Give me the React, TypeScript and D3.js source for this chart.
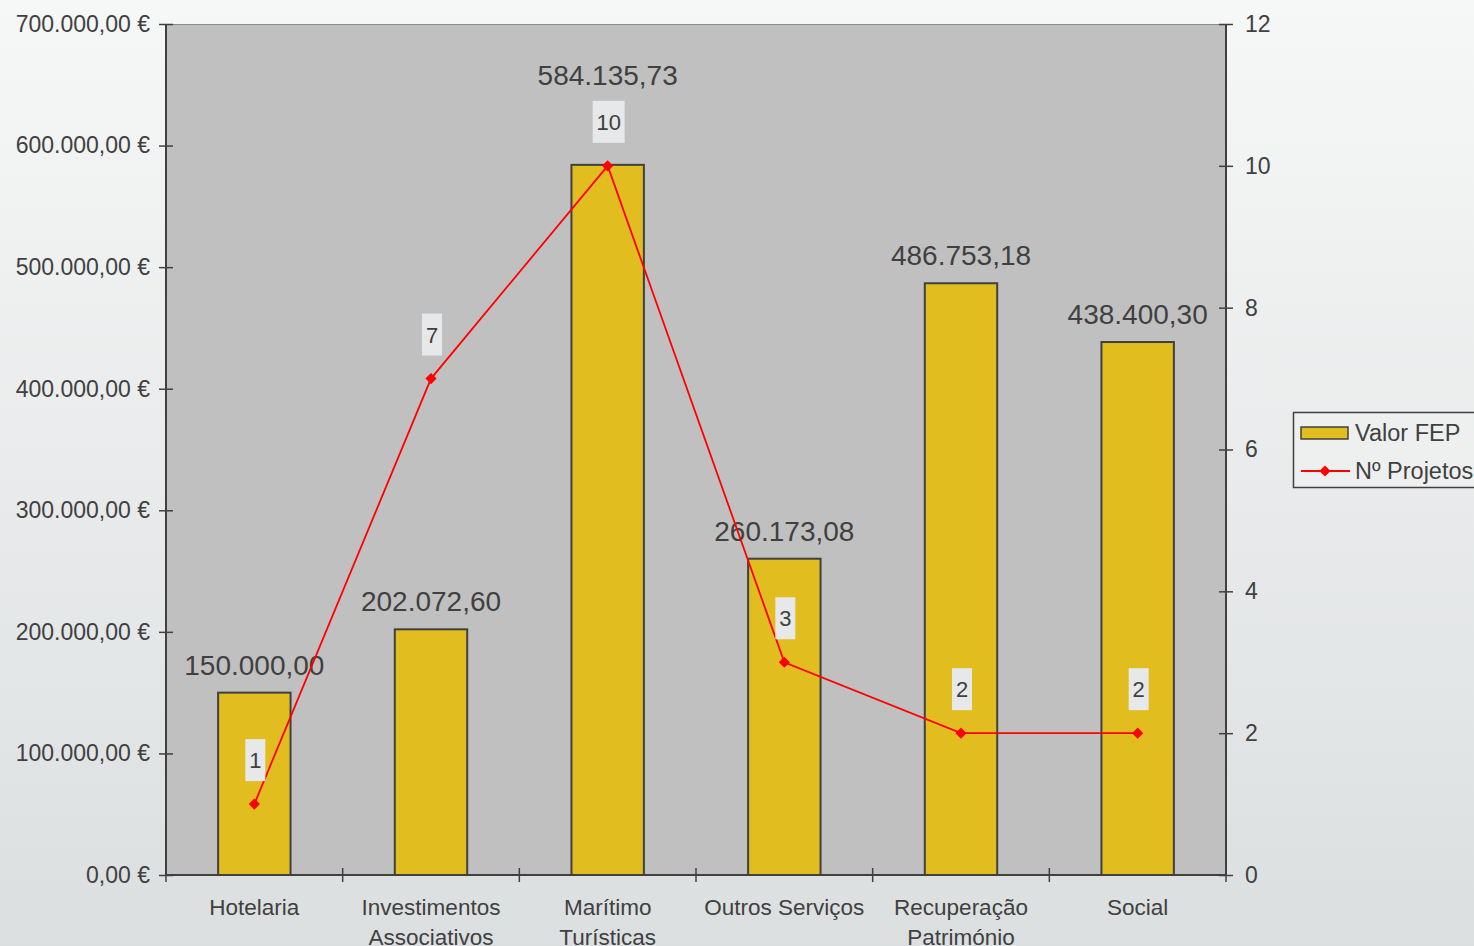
import React, { useRef, useEffect } from 'react';
import * as d3 from 'd3';

const categories = [
  ['Hotelaria'],
  ['Investimentos', 'Associativos'],
  ['Marítimo', 'Turísticas'],
  ['Outros Serviços'],
  ['Recuperação', 'Património'],
  ['Social'],
];
const valorFEP = [150000.0, 202072.6, 584135.73, 260173.08, 486753.18, 438400.3];
const nProjetos = [1, 7, 10, 3, 2, 2];
const leftTicks = [0, 100000, 200000, 300000, 400000, 500000, 600000, 700000];
const rightTicks = [0, 2, 4, 6, 8, 10, 12];

const W = 1474;
const H = 946;
const FONT = '"Liberation Sans", Arial, sans-serif';
const TEXT = '#404040';

const fmt = (v: number) => {
  const [int, dec] = v.toFixed(2).split('.');
  return int.replace(/\B(?=(\d{3})+(?!\d))/g, '.') + ',' + dec;
};

const App: React.FC = () => {
  const svgRef = useRef<SVGSVGElement>(null);

  useEffect(() => {
    document.body.style.margin = '0';
    const svg = d3.select(svgRef.current);
    svg.selectAll('*').remove();

    const margin = { top: 24, right: 248, bottom: 71, left: 166 };
    const width = W - margin.left - margin.right;
    const height = H - margin.top - margin.bottom;

    // background gradient
    const defs = svg.append('defs');
    const bg = defs.append('linearGradient')
      .attr('id', 'bg').attr('x1', 0).attr('y1', 0).attr('x2', 0).attr('y2', 1);
    bg.append('stop').attr('offset', '0%').attr('stop-color', '#f6f7f7');
    bg.append('stop').attr('offset', '100%').attr('stop-color', '#dcdfe0');
    svg.append('rect').attr('width', W).attr('height', H).attr('fill', 'url(#bg)');

    const g = svg.append('g').attr('transform', `translate(${margin.left},${margin.top})`);

    const x = d3.scaleBand<number>()
      .domain(d3.range(categories.length))
      .range([0, width])
      .paddingInner(0.59)
      .paddingOuter(0.295);
    const xc = (i: number) => (x(i) as number) + x.bandwidth() / 2;
    const y = d3.scaleLinear().domain([0, 700000]).range([height, 0]);
    const y2 = d3.scaleLinear().domain([0, 12]).range([height, 0]);

    // plot area
    g.append('rect')
      .attr('width', width).attr('height', height)
      .attr('fill', '#c0c0c0');
    g.append('line')
      .attr('x1', 0).attr('x2', width).attr('y1', 0.5).attr('y2', 0.5)
      .attr('stroke', '#8a8a8a').attr('stroke-width', 1);

    // bars
    g.selectAll('.bar')
      .data(valorFEP)
      .enter().append('rect')
      .attr('x', (_, i) => x(i) as number)
      .attr('y', d => y(d))
      .attr('width', x.bandwidth())
      .attr('height', d => height - y(d))
      .attr('fill', '#e2bd20')
      .attr('stroke', '#404040')
      .attr('stroke-width', 2);

    // point label positions (centre of box)
    const ptOffset = 44;
    const boxH = 42;
    const ptY = (d: number) => y2(d) - ptOffset;

    // bar labels, pushed above the point label when they would collide
    const barLabelY = (d: number, i: number) => {
      const base = y(d) - 18;
      const boxTop = ptY(nProjetos[i]) - boxH / 2;
      const boxBottom = ptY(nProjetos[i]) + boxH / 2;
      if (base + 4 > boxTop && base - 22 < boxBottom) return boxTop - 16;
      return base;
    };
    g.selectAll('.bar-label')
      .data(valorFEP)
      .enter().append('text')
      .attr('x', (_, i) => xc(i))
      .attr('y', (d, i) => barLabelY(d, i))
      .attr('text-anchor', 'middle')
      .style('font-family', FONT)
      .style('font-size', '28px')
      .style('fill', TEXT)
      .text(d => fmt(d));

    // axes
    const axisStyle = (sel: d3.Selection<SVGGElement, unknown, null, undefined>) => {
      sel.select('.domain').remove();
      sel.selectAll('line').attr('stroke', TEXT).attr('stroke-width', 1.5);
      sel.selectAll('text')
        .style('font-family', FONT).style('font-size', '23px').style('fill', TEXT);
    };

    const leftAxis = g.append('g')
      .call(d3.axisLeft(y).tickValues(leftTicks).tickSize(7).tickPadding(9)
        .tickFormat(d => fmt(d as number) + ' €'));
    leftAxis.call(axisStyle);
    leftAxis.selectAll('.tick line').attr('x1', 7);

    const rightAxis = g.append('g')
      .attr('transform', `translate(${width},0)`)
      .call(d3.axisRight(y2).tickValues(rightTicks).tickSize(7).tickPadding(12)
        .tickFormat(d => `${d}`));
    rightAxis.call(axisStyle);
    rightAxis.selectAll('.tick line').attr('x1', -7);

    const bottomAxis = g.append('g').attr('transform', `translate(0,${height})`);
    const bounds = d3.range(categories.length + 1).map(i => (i * width) / categories.length);
    bottomAxis.selectAll('line.sep')
      .data(bounds)
      .enter().append('line')
      .attr('x1', d => d).attr('x2', d => d)
      .attr('y1', -7).attr('y2', 7)
      .attr('stroke', TEXT).attr('stroke-width', 1.5);

    categories.forEach((lines, i) => {
      const t = bottomAxis.append('text')
        .attr('x', xc(i))
        .attr('y', 40)
        .attr('text-anchor', 'middle')
        .style('font-family', FONT)
        .style('font-size', '22.5px')
        .style('fill', TEXT);
      lines.forEach((l, k) => {
        t.append('tspan').attr('x', xc(i)).attr('dy', k === 0 ? 0 : 30).text(l);
      });
    });

    // axis lines
    g.append('line').attr('x1', 0).attr('x2', 0).attr('y1', 0).attr('y2', height)
      .attr('stroke', TEXT).attr('stroke-width', 2);
    g.append('line').attr('x1', width).attr('x2', width).attr('y1', 0).attr('y2', height)
      .attr('stroke', TEXT).attr('stroke-width', 2);
    g.append('line').attr('x1', 0).attr('x2', width).attr('y1', height).attr('y2', height)
      .attr('stroke', TEXT).attr('stroke-width', 2);

    // projects line
    const line = d3.line<number>()
      .x((_, i) => xc(i))
      .y(d => y2(d));
    g.append('path')
      .datum(nProjetos)
      .attr('fill', 'none')
      .attr('stroke', '#ff0000')
      .attr('stroke-width', 1.8)
      .attr('d', line);

    const diamond = d3.symbol().type(d3.symbolDiamond2).size(80);
    g.selectAll('.dot')
      .data(nProjetos)
      .enter().append('path')
      .attr('transform', (d, i) => `translate(${xc(i)},${y2(d)})`)
      .attr('d', diamond)
      .attr('fill', '#ff0000');

    // point labels
    const pl = g.selectAll('.pt-label')
      .data(nProjetos)
      .enter().append('g')
      .attr('transform', (d, i) => `translate(${xc(i) + 1},${ptY(d)})`);
    pl.append('rect')
      .attr('x', d => (d >= 10 ? -16 : -10))
      .attr('y', -boxH / 2)
      .attr('width', d => (d >= 10 ? 32 : 20))
      .attr('height', boxH)
      .attr('fill', '#e6e8e9');
    pl.append('text')
      .attr('text-anchor', 'middle')
      .attr('dy', '0.36em')
      .style('font-family', FONT)
      .style('font-size', '22px')
      .style('fill', TEXT)
      .text(d => `${d}`);

    // legend
    const legend = svg.append('g').attr('transform', 'translate(1293,412)');
    legend.append('rect')
      .attr('x', 0.5).attr('y', 0.5).attr('width', 190).attr('height', 75)
      .attr('fill', '#eef0f0').attr('stroke', TEXT).attr('stroke-width', 1.5);
    legend.append('rect')
      .attr('x', 8).attr('y', 15).attr('width', 47).attr('height', 12)
      .attr('fill', '#e2bd20').attr('stroke', TEXT).attr('stroke-width', 1.5);
    legend.append('text')
      .attr('x', 62).attr('y', 21).attr('dy', '0.36em')
      .style('font-family', FONT).style('font-size', '23.5px').style('fill', TEXT)
      .text('Valor FEP');
    legend.append('line')
      .attr('x1', 8).attr('x2', 57).attr('y1', 59).attr('y2', 59)
      .attr('stroke', '#ff0000').attr('stroke-width', 1.8);
    legend.append('path')
      .attr('transform', 'translate(32,59)')
      .attr('d', diamond)
      .attr('fill', '#ff0000');
    legend.append('text')
      .attr('x', 62).attr('y', 59).attr('dy', '0.36em')
      .style('font-family', FONT).style('font-size', '23.5px').style('fill', TEXT)
      .text('Nº Projetos');
  }, []);

  return <svg ref={svgRef} width={W} height={H} style={{ display: 'block' }}></svg>;
};

export default App;
